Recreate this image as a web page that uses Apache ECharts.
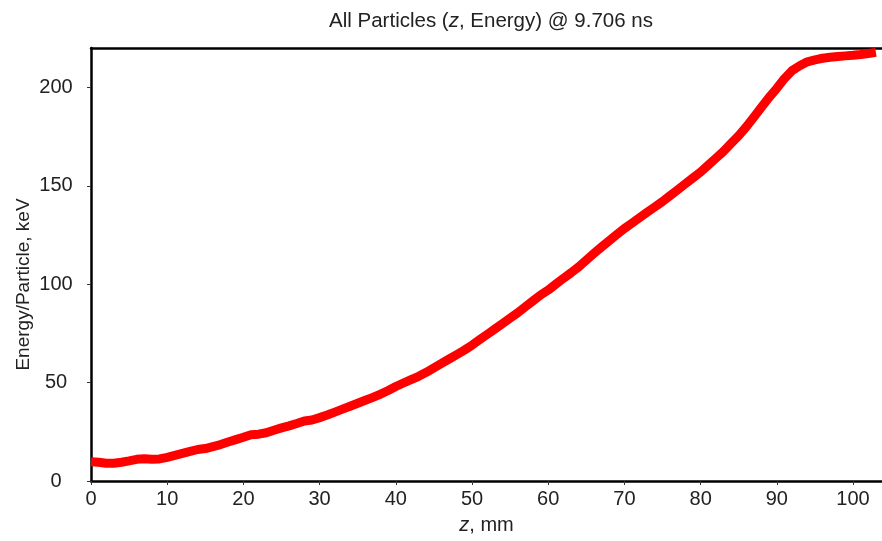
<!DOCTYPE html>
<html>
<head>
<meta charset="utf-8">
<script src="https://cdn.jsdelivr.net/npm/echarts@6/dist/echarts.min.js"></script>
<style>
html,body{margin:0;padding:0;background:#fff;}
#chart{width:882px;height:541px;}
</style>
</head>
<body>
<div id="chart"></div>
<script>
// z positions (mm)
const zValues = [0,1,2,3,4,5,6,7,8,9,10,11,12,13,14,15,16,17,18,19,20,21,22,23,24,25,26,27,28,29,30,
  31,32,33,34,35,36,37,38,39,40,41,42,43,44,45,46,47,48,49,50,51,52,53,54,55,56,57,58,59,60,
  61,62,63,64,65,66,67,68,69,70,71,72,73,74,75,76,77,78,79,80,81,82,83,84,85,86,87,88,89,90,
  91,92,93,94,95,96,97,98,99,100,101,102,103];
// Energy per particle (keV)
const energyValues = [9.8,9.5,9.0,9.0,9.5,10.2,11.0,11.3,11.0,11.2,12.0,13.0,14.0,15.0,16.0,16.5,17.5,18.5,19.8,21.0,22.2,
  23.5,23.8,24.5,25.8,27.0,28.0,29.2,30.5,31.0,32.2,33.5,35.0,36.5,38.0,39.5,41.0,42.5,44.2,46.0,48.0,
  49.8,51.5,53.2,55.2,57.5,59.8,62.0,64.2,66.5,69.0,71.8,74.5,77.2,80.0,82.8,85.5,88.5,91.5,94.5,97.0,
  100.0,103.0,105.8,108.8,112.2,115.6,118.9,122.1,125.2,128.3,131.0,133.8,136.6,139.3,142.0,145.0,148.0,151.0,154.0,157.0,
  160.5,164.0,167.5,171.5,175.5,180.0,185.0,190.0,195.0,199.5,204.5,208.5,211.0,213.0,214.0,214.8,215.3,215.7,216.0,216.3,
  216.7,217.2,217.8];
const xTicks = [0,10,20,30,40,50,60,70,80,90,100];
const yTicks = [0,50,100,150,200];

const seriesData = zValues.map((z, i) => [z, energyValues[i]]);
const font = 'Liberation Sans, Arial, Helvetica, sans-serif';

const chart = echarts.init(document.getElementById('chart'), null, {renderer: 'canvas'});
chart.setOption({
  backgroundColor: '#ffffff',
  animation: false,
  title: {
    text: 'All Particles ({i|z}, Energy) @ 9.706 ns',
    left: 486,
    top: 6,
    textAlign: 'center',
    textStyle: {
      fontFamily: font, fontSize: 20.5, fontWeight: 'normal', color: '#222',
      rich: { i: { fontFamily: font, fontSize: 20.5, fontStyle: 'italic', color: '#222' } }
    }
  },
  grid: { left: 91, right: 0, top: 48, bottom: 60, containLabel: false },
  xAxis: [{
    type: 'value', min: 0, max: 103.8,
    name: '{i|z}, mm', nameLocation: 'middle', nameGap: 34,
    nameTextStyle: { fontFamily: font, fontSize: 20, color: '#222',
      rich: { i: { fontFamily: font, fontSize: 20, fontStyle: 'italic', color: '#222' } } },
    axisLine: { show: true, onZero: false, lineStyle: { color: '#000', width: 2.5 } },
    axisTick: { show: true, length: 4, customValues: xTicks, lineStyle: { color: '#333', width: 1 } },
    axisLabel: { customValues: xTicks, margin: 8, fontFamily: font, fontSize: 20, color: '#222' },
    splitLine: { show: false }
  }, {
    type: 'value', position: 'top', min: 0, max: 103.8,
    axisLine: { show: true, onZero: false, lineStyle: { color: '#000', width: 2.5 } },
    axisTick: { show: false }, axisLabel: { show: false }, splitLine: { show: false }
  }],
  yAxis: {
    type: 'value', min: 0, max: 220,
    name: 'Energy/Particle, keV', nameLocation: 'middle', nameGap: 58, nameMoveOverlap: false,
    nameTextStyle: { fontFamily: font, fontSize: 19, color: '#222', padding: [0, 40, 0, 0] },
    axisLine: { show: true, onZero: false, lineStyle: { color: '#000', width: 2.5 } },
    axisTick: { show: true, length: 4, customValues: yTicks, lineStyle: { color: '#333', width: 1 } },
    axisLabel: { customValues: yTicks, margin: 35, align: 'center', fontFamily: font, fontSize: 20, color: '#222' },
    splitLine: { show: false }
  },
  series: [{
    type: 'line',
    data: seriesData,
    showSymbol: false,
    symbol: 'none',
    lineStyle: { color: '#ff0000', width: 9, cap: 'butt', join: 'round' },
    clip: true
  }]
});
</script>
</body>
</html>
